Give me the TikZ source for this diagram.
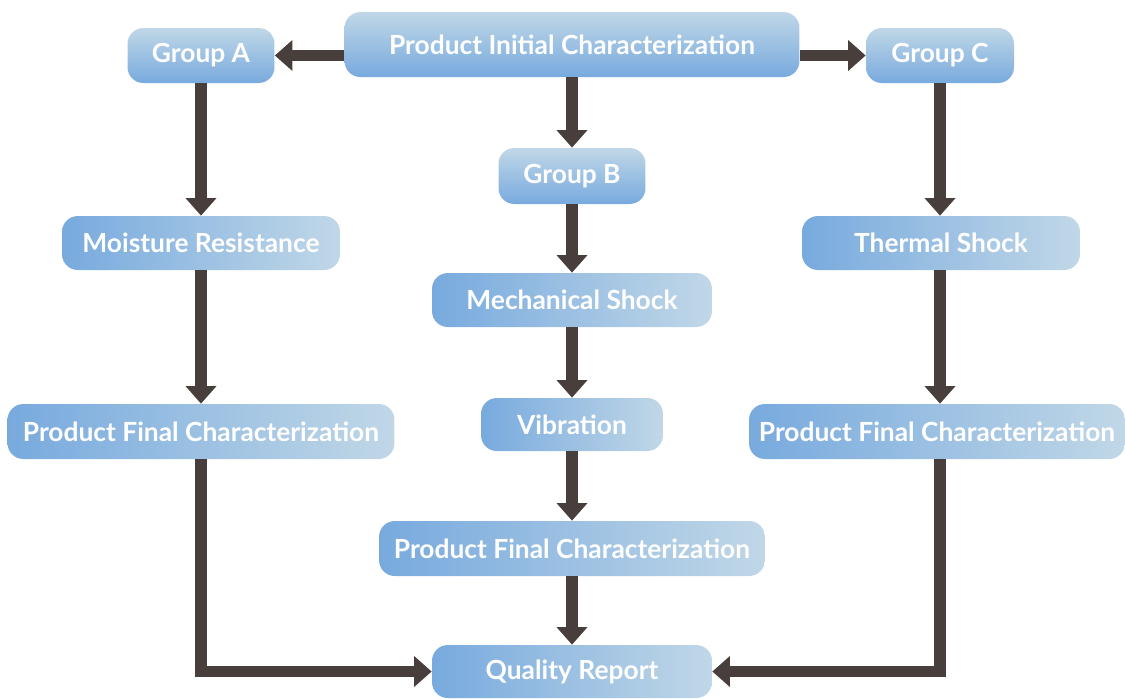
\documentclass[tikz,border=0pt]{standalone}
\usepackage{fontspec}
\setsansfont{Lato}
\usetikzlibrary{arrows.meta, positioning}
\definecolor{boxdark}{RGB}{120, 170, 222}
\definecolor{boxlight}{RGB}{192, 215, 231}
\definecolor{flowarrow}{RGB}{72, 62, 60}

\begin{document}
\begin{tikzpicture}[
  x=0.02cm, y=-0.02cm,
  sbox/.style={rounded corners=9pt, inner sep=2pt, text=white, align=center,
    font=\sffamily\bfseries\fontsize{15}{17}\selectfont},
  vbox/.style={sbox, top color=boxlight, bottom color=boxdark},
  hbox/.style={sbox, left color=boxdark, right color=boxlight},
  flow/.style={line width=6.8pt, draw=flowarrow, -{Triangle[width=17pt, length=10pt]}}
]
  \useasboundingbox (0,0) rectangle (1125,698);

  % top row
  \node[vbox, minimum width=9.1cm, minimum height=1.3cm] (init) at (572,44.5) {Product Initial Characterization};
  \node[vbox, minimum width=2.94cm, minimum height=1.1cm] (grpA) at (201,55.5) {Group A};
  \node[vbox, minimum width=2.96cm, minimum height=1.1cm] (grpC) at (940,55.5) {Group C};
  \node[vbox, minimum width=2.94cm, minimum height=1.12cm] (grpB) at (572,176) {Group B};

  % tests
  \node[hbox, minimum width=5.56cm, minimum height=1.08cm] (moist) at (201,243) {Moisture Resistance};
  \node[hbox, minimum width=5.56cm, minimum height=1.08cm] (therm) at (941,243) {Thermal Shock};
  \node[hbox, minimum width=5.6cm, minimum height=1.08cm] (mech) at (572,300) {Mechanical Shock};
  \node[hbox, minimum width=3.64cm, minimum height=1.06cm] (vib) at (572,424.5) {Vibration};

  % final characterization
  \node[hbox, minimum width=7.74cm, minimum height=1.1cm] (finA) at (201,431.5) {Product Final Characterization};
  \node[hbox, minimum width=7.52cm, minimum height=1.1cm] (finC) at (937,431.5) {Product Final Characterization};
  \node[hbox, minimum width=7.72cm, minimum height=1.1cm] (finB) at (572,548.5) {Product Final Characterization};
  \node[hbox, minimum width=5.6cm, minimum height=1.06cm] (report) at (572,671.5) {Quality Report};

  % connectors
  \draw[flow] (init.west |- grpA) -- (grpA.east);
  \draw[flow] (init.east |- grpC) -- (grpC.west);
  \draw[flow] (init) -- (grpB);
  \draw[flow] (grpA) -- (moist);
  \draw[flow] (moist) -- (finA);
  \draw[flow] (grpB) -- (mech);
  \draw[flow] (mech) -- (vib);
  \draw[flow] (vib) -- (finB);
  \draw[flow] (finB) -- (report);
  \draw[flow] (grpC) -- (therm.north -| grpC);
  \draw[flow] (therm.south -| grpC) -- (finC.north -| grpC);
  \draw[flow] (finA.south) |- (report.west);
  \draw[flow] (finC.south -| grpC) |- (report.east);
\end{tikzpicture}
\end{document}
